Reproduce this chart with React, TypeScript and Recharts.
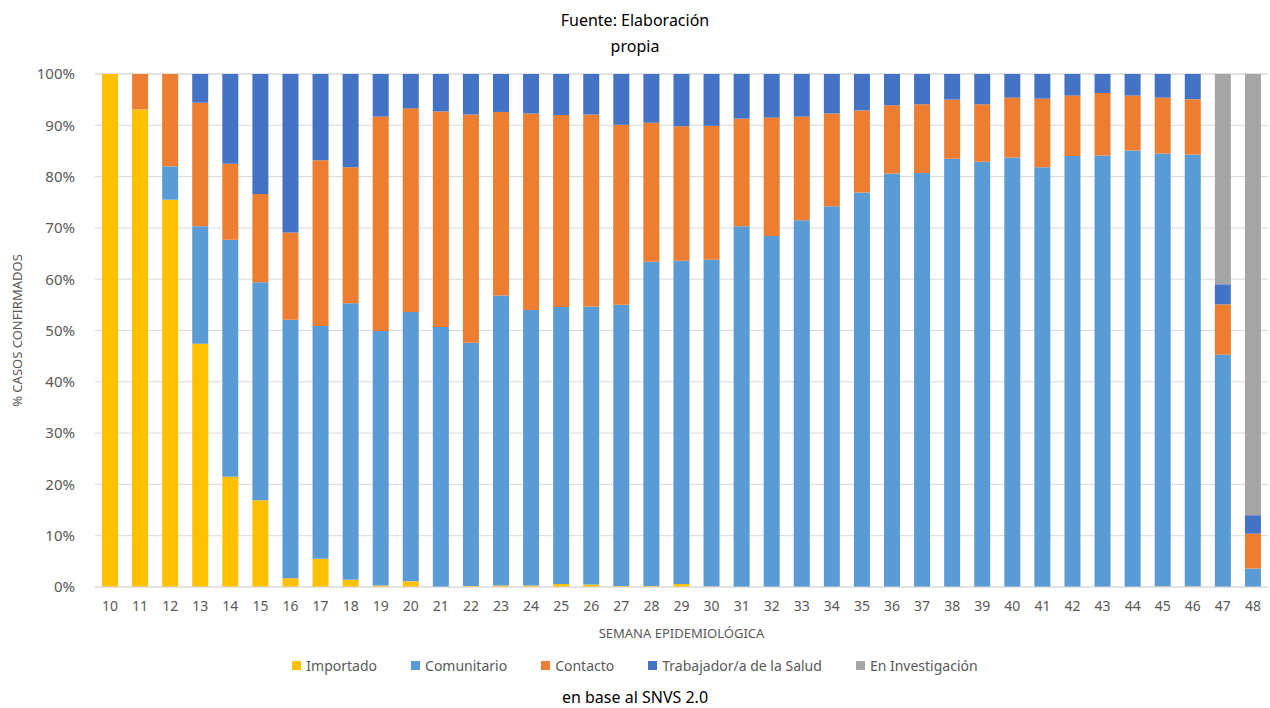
import React from 'react';
import { Bar, BarChart, CartesianGrid, XAxis, YAxis } from 'recharts';

const weeks = [
  '10', '11', '12', '13', '14', '15', '16', '17', '18', '19', '20', '21', '22', '23', '24', '25', '26', '27', '28', '29',
  '30', '31', '32', '33', '34', '35', '36', '37', '38', '39', '40', '41', '42', '43', '44', '45', '46', '47', '48',
];

const importado = [
  100, 93.1, 75.5, 47.4, 21.5, 16.9, 1.7, 5.5, 1.4, 0.3, 1.1, 0, 0.2, 0.3, 0.3, 0.6, 0.5, 0.2, 0.2, 0.6,
  0.1, 0, 0, 0, 0, 0, 0, 0, 0, 0, 0, 0, 0, 0, 0, 0.1, 0.1, 0, 0,
];
const comunitario = [
  0, 0, 6.5, 22.9, 46.2, 42.5, 50.4, 45.4, 53.9, 49.6, 52.5, 50.7, 47.4, 56.5, 53.7, 54.0, 54.2, 54.8, 63.2, 63.0,
  63.7, 70.3, 68.4, 71.5, 74.2, 76.9, 80.6, 80.7, 83.5, 82.9, 83.7, 81.8, 84.0, 84.1, 85.1, 84.4, 84.2, 45.3, 3.6,
];
const contacto = [
  0, 6.9, 18.0, 24.1, 14.8, 17.2, 17.0, 32.3, 26.5, 41.8, 39.7, 42.0, 44.5, 35.8, 38.3, 37.4, 37.4, 35.1, 27.1, 26.2,
  26.1, 21.0, 23.1, 20.2, 18.1, 16.0, 13.3, 13.4, 11.5, 11.2, 11.7, 13.4, 11.8, 12.2, 10.7, 10.9, 10.8, 9.8, 6.8,
];
const trabajador = [
  0, 0, 0, 5.6, 17.5, 23.4, 30.9, 16.8, 18.2, 8.3, 6.7, 7.3, 7.9, 7.4, 7.7, 8.0, 7.9, 9.9, 9.5, 10.2,
  10.1, 8.7, 8.5, 8.3, 7.7, 7.1, 6.1, 5.9, 5.0, 5.9, 4.6, 4.8, 4.2, 3.7, 4.2, 4.6, 4.9, 3.9, 3.6,
];
const investigacion = [
  0, 0, 0, 0, 0, 0, 0, 0, 0, 0, 0, 0, 0, 0, 0, 0, 0, 0, 0, 0,
  0, 0, 0, 0, 0, 0, 0, 0, 0, 0, 0, 0, 0, 0, 0, 0, 0, 41.0, 86.0,
];

const yTicks = [0, 10, 20, 30, 40, 50, 60, 70, 80, 90, 100];

const series = [
  { key: 'importado', name: 'Importado', color: '#FFC000', values: importado },
  { key: 'comunitario', name: 'Comunitario', color: '#5B9BD5', values: comunitario },
  { key: 'contacto', name: 'Contacto', color: '#ED7D31', values: contacto },
  { key: 'trabajador', name: 'Trabajador/a de la Salud', color: '#4472C4', values: trabajador },
  { key: 'investigacion', name: 'En Investigación', color: '#A5A5A5', values: investigacion },
];

const data = weeks.map((w, i) => {
  const row: Record<string, string | number> = { semana: w };
  series.forEach((s) => {
    row[s.key] = s.values[i];
  });
  return row;
});

const FONT = '"Noto Sans", "Open Sans", sans-serif';
const TXT = '#595959';

const App = () => {
  return (
    <div style={{ position: 'absolute', left: 0, top: 0, width: 1270, height: 708, background: '#fff', fontFamily: FONT }}>
      <div style={{ position: 'absolute', top: 7, left: 0, width: 1270, textAlign: 'center', fontSize: 16, lineHeight: '26px', color: '#000' }}>
        Fuente: Elaboración
        <br />
        propia
      </div>
      <BarChart width={1270} height={708} data={data} margin={{ top: 74, right: 2, bottom: 91, left: 0 }} barSize={16}>
        <CartesianGrid vertical={false} stroke="#d9d9d9" />
        <XAxis
          dataKey="semana"
          height={30}
          tickLine={false}
          axisLine={{ stroke: '#d9d9d9' }}
          tick={{ fill: TXT, fontSize: 14, fontFamily: FONT }}
          tickMargin={8}
          interval={0}
          label={{ value: 'SEMANA EPIDEMIOLÓGICA', position: 'insideBottom', offset: -21, fill: TXT, fontSize: 13, fontFamily: FONT }}
        />
        <YAxis
          width={95}
          domain={[0, 100]}
          ticks={yTicks}
          tickFormatter={(v) => `${v}%`}
          tickLine={false}
          axisLine={false}
          tick={{ fill: TXT, fontSize: 15, fontFamily: FONT }}
          tickMargin={14}
          label={{ value: '% CASOS CONFIRMADOS', angle: -90, position: 'insideLeft', offset: 17, fill: TXT, fontSize: 13, fontFamily: FONT, style: { textAnchor: 'middle' } }}
        />
        {series.map((s) => (
          <Bar key={s.key} dataKey={s.key} name={s.name} stackId="a" fill={s.color} isAnimationActive={false} />
        ))}
      </BarChart>
      <div style={{ position: 'absolute', top: 656, left: 0, width: 1270, display: 'flex', justifyContent: 'center', gap: 34, fontSize: 14, color: TXT }}>
        {series.map((s) => (
          <div key={s.key} style={{ display: 'flex', alignItems: 'center' }}>
            <span style={{ display: 'inline-block', width: 9, height: 9, background: s.color, marginRight: 5 }} />
            {s.name}
          </div>
        ))}
      </div>
      <div style={{ position: 'absolute', top: 686, left: 0, width: 1270, textAlign: 'center', fontSize: 16, color: '#000' }}>
        en base al SNVS 2.0
      </div>
    </div>
  );
};

export default App;
